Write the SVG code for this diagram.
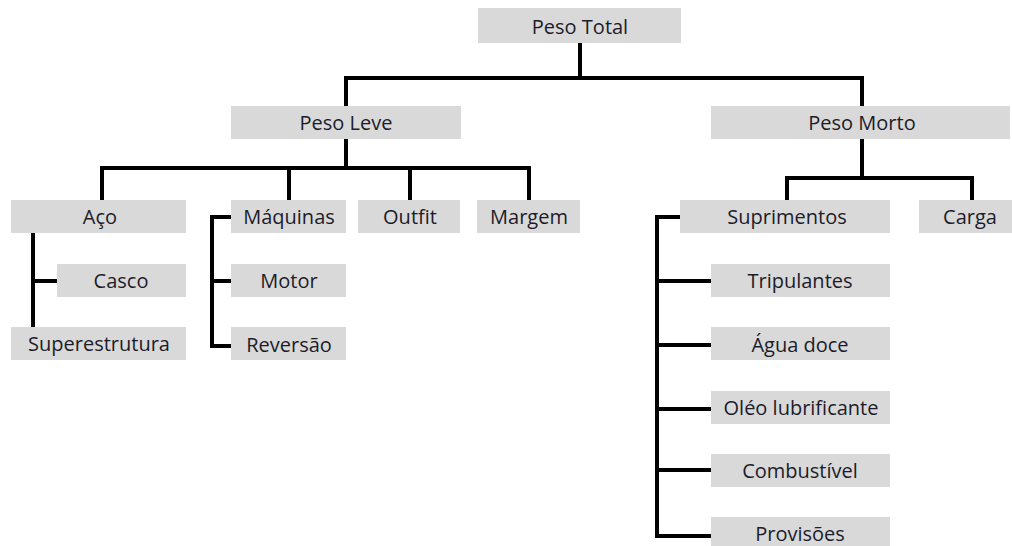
<svg xmlns="http://www.w3.org/2000/svg" width="1012" height="546" viewBox="0 0 1012 546">
<style>
.box{fill:#d9d9d9}
.t{font-family:"Open Sans","Liberation Sans",sans-serif;font-size:20px;fill:#1c1c2a;text-anchor:middle;dominant-baseline:central}
.c{fill:none;stroke:#000;stroke-width:4;stroke-linejoin:miter;stroke-linecap:butt}
</style>
<rect width="1012" height="546" fill="#fff"/>
<g id="connectors">
<path class="c" d="M580 43V78M346 108V78H862V108"/>
<path class="c" d="M346 139V168M102 202V168H529V202M289 168V202M410 168V202"/>
<path class="c" d="M862 139V178M787 202V178H972V202"/>
<path class="c" d="M33 233V328M33 281H57"/>
<path class="c" d="M231 217H212V346H231M212 281H231"/>
<path class="c" d="M680 217H657V536H711M657 281H711M657 345H711M657 409H711M657 470H711"/>
</g>
<g id="peso-total"><rect class="box" x="478" y="8" width="203" height="35"/><text class="t" x="580" y="26">Peso Total</text></g>
<g id="peso-leve"><rect class="box" x="231" y="106" width="230" height="33"/><text class="t" x="346" y="122">Peso Leve</text></g>
<g id="peso-morto"><rect class="box" x="711" y="106" width="299" height="33"/><text class="t" x="862" y="122">Peso Morto</text></g>
<g id="aco"><rect class="box" x="11" y="200" width="175" height="33"/><text class="t" x="100" y="216">Aço</text></g>
<g id="maquinas"><rect class="box" x="231" y="200" width="115" height="33"/><text class="t" x="289" y="216">Máquinas</text></g>
<g id="outfit"><rect class="box" x="358" y="200" width="102" height="33"/><text class="t" x="410" y="216">Outfit</text></g>
<g id="margem"><rect class="box" x="477" y="200" width="103" height="33"/><text class="t" x="529" y="216">Margem</text></g>
<g id="casco"><rect class="box" x="57" y="264" width="129" height="33"/><text class="t" x="121" y="280">Casco</text></g>
<g id="superestrutura"><rect class="box" x="11" y="327" width="175" height="33"/><text class="t" x="99" y="343">Superestrutura</text></g>
<g id="motor"><rect class="box" x="231" y="264" width="115" height="33"/><text class="t" x="289" y="280">Motor</text></g>
<g id="reversao"><rect class="box" x="231" y="327" width="115" height="33"/><text class="t" x="289" y="344">Reversão</text></g>
<g id="suprimentos"><rect class="box" x="680" y="200" width="210" height="33"/><text class="t" x="787" y="216">Suprimentos</text></g>
<g id="carga"><rect class="box" x="919" y="200" width="93" height="33"/><text class="t" x="970" y="216">Carga</text></g>
<g id="tripulantes"><rect class="box" x="711" y="264" width="179" height="33"/><text class="t" x="800" y="280">Tripulantes</text></g>
<g id="agua-doce"><rect class="box" x="711" y="327" width="179" height="33"/><text class="t" x="800" y="344">Água doce</text></g>
<g id="oleo"><rect class="box" x="711" y="391" width="179" height="33"/><text class="t" x="801" y="407">Oléo lubrificante</text></g>
<g id="combustivel"><rect class="box" x="711" y="454" width="179" height="33"/><text class="t" x="800" y="470">Combustível</text></g>
<g id="provisoes"><rect class="box" x="711" y="517" width="179" height="33"/><text class="t" x="800" y="533">Provisões</text></g>
</svg>
